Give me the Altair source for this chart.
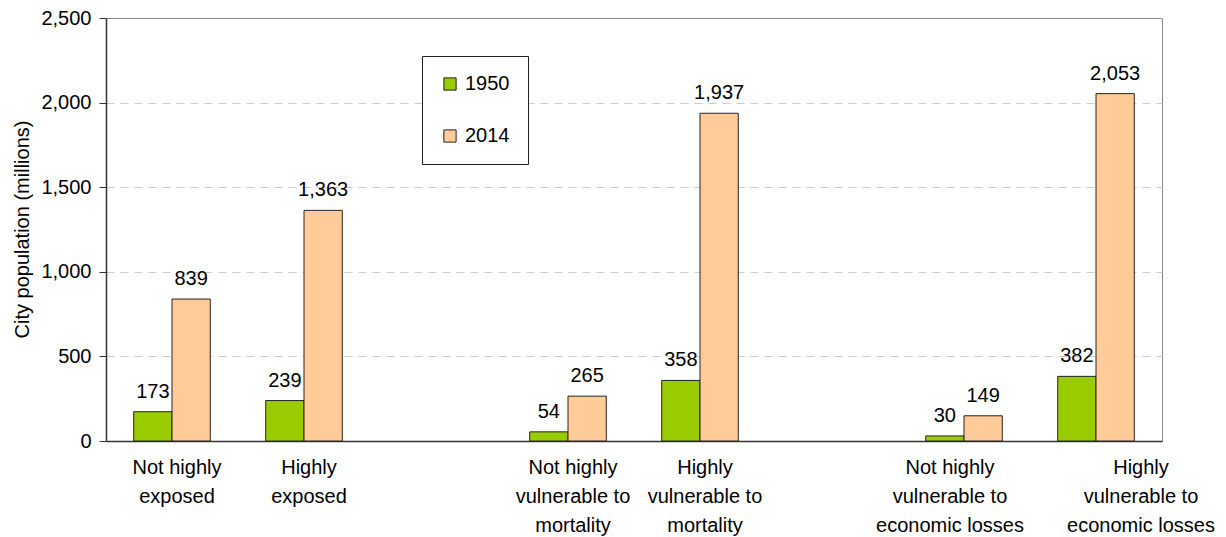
import altair as alt
import pandas as pd

categories = [
    "Not highly|exposed",
    "Highly|exposed",
    " ",
    "Not highly|vulnerable to|mortality",
    "Highly|vulnerable to|mortality",
    "  ",
    "Not highly|vulnerable to|economic losses",
    "Highly|vulnerable to|economic losses",
]
data_categories = [c for c in categories if c.strip()]
values_1950 = [173, 239, 54, 358, 30, 382]
values_2014 = [839, 1363, 265, 1937, 149, 2053]
years = ["1950", "2014"]
colors = ["#99CC00", "#FFCC99"]
y_ticks = [0, 500, 1000, 1500, 2000, 2500]

rows = []
for c, a, b in zip(data_categories, values_1950, values_2014):
    rows.append({"cat": c, "year": "1950", "value": a})
    rows.append({"cat": c, "year": "2014", "value": b})
df = pd.DataFrame(rows)

FONT = "Liberation Sans"

x_enc = alt.X(
    "cat:N",
    sort=categories,
    scale=alt.Scale(domain=categories, paddingInner=0.42, paddingOuter=0.21),
    axis=alt.Axis(
        title=None,
        labelExpr="split(datum.label, '|')",
        labelAngle=0,
        ticks=False,
        labelFont=FONT,
        labelFontSize=20,
        labelColor="black",
        labelLineHeight=29,
        labelPadding=16,
        labelLimit=300,
        domainColor="#333333",
        domainWidth=1.5,
        labelOffset={
            "condition": [
                {"test": "datum.value === 'Highly|vulnerable to|economic losses'", "value": 45},
                {"test": "datum.value === 'Not highly|vulnerable to|economic losses'", "value": -14},
            ],
            "value": 5,
        },
    ),
)

y_enc = alt.Y(
    "value:Q",
    scale=alt.Scale(domain=[0, 2500], nice=False),
    axis=alt.Axis(
        title="City population (millions)",
        values=y_ticks,
        format=",.0f",
        titleFont=FONT,
        titleFontSize=20,
        titleFontWeight="normal",
        titleColor="black",
        titleX=-84,
        titleY=211,
        titleBaseline="middle",
        titleAngle=270,
        labelFont=FONT,
        labelFontSize=20,
        labelColor="black",
        labelPadding=8,
        tickSize=7,
        tickColor="#333333",
        domainColor="#333333",
        domainWidth=1.5,
        grid=True,
        gridDash=[8, 6],
        gridColor="#CCCCCC",
        gridOpacity={"condition": {"test": "datum.value === 0 || datum.value === 2500", "value": 0}, "value": 1},
    ),
)

base = alt.Chart(df).encode(
    x=x_enc,
    xOffset=alt.XOffset("year:N", sort=years),
    y=y_enc,
)

bars = base.mark_bar(stroke="#222222", strokeWidth=1).encode(
    color=alt.Color(
        "year:N",
        scale=alt.Scale(domain=years, range=colors),
        legend=alt.Legend(
            title=None,
            orient="none",
            legendX=316,
            legendY=38,
            direction="vertical",
            symbolType="square",
            symbolSize=150,
            symbolStrokeColor="#222222",
            symbolStrokeWidth=1,
            labelFont=FONT,
            labelFontSize=20,
            labelColor="black",
            rowPadding=32,
            padding=18,
            strokeColor="#222222",
            fillColor="white",
            labelOffset=5,
        ),
    )
)

labels = base.mark_text(
    baseline="alphabetic", dy=-14, font=FONT, fontSize=20, color="black"
).encode(text=alt.Text("value:Q", format=","))

chart = (
    alt.layer(bars, labels)
    .properties(
        width=1056,
        height=423,
        padding={"left": 106, "top": 18, "right": 64, "bottom": 96},
        autosize="none",
    )
    .configure_view(stroke="#888888", strokeWidth=1)
)

chart.save("out.html", embed_options={"renderer": "svg", "actions": False})
